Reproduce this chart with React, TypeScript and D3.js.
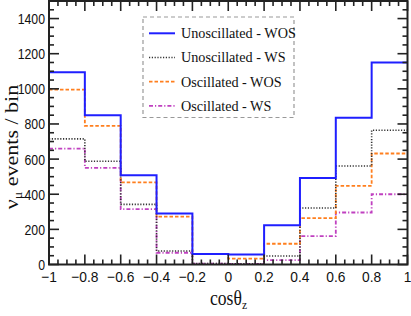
import * as d3 from "d3";
import React from "react";
import { useEffect, useRef } from "react";

const binEdges = [-1, -0.8, -0.6, -0.4, -0.2, 0, 0.2, 0.4, 0.6, 0.8, 1];
const unoscWOS = [1095, 849, 508, 291, 60, 57, 224, 493, 836, 1150];
const unoscWS = [715, 588, 342, 77, 6, 4, 48, 322, 561, 764];
const oscWOS = [995, 789, 467, 272, 60, 33, 118, 264, 448, 632];
const oscWS = [660, 550, 315, 67, 5, 3, 25, 162, 296, 400];

const seriesNames = ["Unoscillated - WOS", "Unoscillated - WS", "Oscillated - WOS", "Oscillated - WS"];
const xTicks = [-1, -0.8, -0.6, -0.4, -0.2, 0, 0.2, 0.4, 0.6, 0.8, 1];
const yTicks = [0, 200, 400, 600, 800, 1000, 1200, 1400];

const W = 411, H = 316;

const App = () => {
    const ref = useRef(null);
    const margin = { top: 1, right: 3.5, bottom: 51.5, left: 49 };

    useEffect(() => {
        const svg = d3.select(ref.current);
        svg.selectAll("*").remove();

        const x = d3.scaleLinear().domain([-1, 1]).range([margin.left, W - margin.right]);
        const y = d3.scaleLinear().domain([0, 1500]).range([H - margin.bottom, margin.top]);

        const styles = [
            { data: unoscWOS, color: "#1f1fff", width: 2, dash: null },
            { data: unoscWS, color: "#333333", width: 1.6, dash: "1.2,1.6" },
            { data: oscWOS, color: "#ff7f1e", width: 1.8, dash: "3.5,2" },
            { data: oscWS, color: "#c040c0", width: 1.8, dash: "4,2,1.2,2" },
        ];

        const line = d3.line<[number, number]>()
            .x(d => x(d[0]))
            .y(d => y(d[1]))
            .curve(d3.curveStepAfter);

        // draw the weaker series first so the solid blue is on top
        [...styles].reverse().forEach(s => {
            const pts: [number, number][] = s.data.map((v, i) => [binEdges[i], v]);
            pts.push([1, s.data[s.data.length - 1]]);
            svg.append("path")
                .attr("d", line(pts))
                .attr("fill", "none")
                .attr("stroke", s.color)
                .attr("stroke-width", s.width)
                .attr("stroke-dasharray", s.dash)
        });

        const tickColor = "#222";
        const x0 = x(-1), x1 = x(1), y0 = y(0), y1 = y(1500);

        // minor + major ticks, all four sides
        const g = svg.append("g").attr("stroke", tickColor).attr("stroke-width", 1.6);
        d3.range(0, 1501, 50).forEach(v => {
            const len = v % 200 === 0 ? 10 : 5;
            g.append("line").attr("x1", x0).attr("x2", x0 + len).attr("y1", y(v)).attr("y2", y(v));
            g.append("line").attr("x1", x1).attr("x2", x1 - len).attr("y1", y(v)).attr("y2", y(v));
        });
        d3.range(0, 41).forEach(k => {
            const v = -1 + k * 0.05;
            const len = k % 4 === 0 ? 10 : 5;
            g.append("line").attr("x1", x(v)).attr("x2", x(v)).attr("y1", y0).attr("y2", y0 - len);
            g.append("line").attr("x1", x(v)).attr("x2", x(v)).attr("y1", y1).attr("y2", y1 + len);
        });

        svg.append("rect")
            .attr("x", x0).attr("y", y1)
            .attr("width", x1 - x0).attr("height", y0 - y1)
            .attr("fill", "none").attr("stroke", tickColor).attr("stroke-width", 2);

        const fmt = (v: number) => (v < 0 ? "\u2212" : "") + String(Math.abs(v));

        // y tick labels are a bit narrow in the original, squeeze them
        svg.selectAll(".ylab")
            .data(yTicks)
            .enter()
            .append("text")
            .attr("transform", d => `translate(${x0 - 4},${y(d) + 5.5}) scale(0.82,1)`)
            .attr("text-anchor", "end")
            .attr("font-family", "Liberation Sans, Arial, sans-serif")
            .attr("font-size", "15px")
            .attr("fill", "#111")
            .text(d => String(d));

        svg.selectAll(".xlab")
            .data(xTicks)
            .enter()
            .append("text")
            .attr("transform", d => `translate(${x(d)},${y0 + 17}) scale(0.92,1)`)
            .attr("text-anchor", "middle")
            .attr("font-family", "Liberation Sans, Arial, sans-serif")
            .attr("font-size", "15px")
            .attr("fill", "#111")
            .text(d => fmt(d));

        // axis titles
        const xt = svg.append("text")
            .attr("transform", "translate(210,305) scale(0.88,1)")
            .attr("font-family", "Liberation Serif, Times New Roman, serif")
            .attr("font-size", "20px")
            .attr("fill", "#111");
        xt.append("tspan").text("cos\u03b8");
        xt.append("tspan").attr("dy", 4).attr("font-size", "13px").text("z");

        const yt = svg.append("text")
            .attr("transform", "translate(18,147) rotate(-90) scale(1,0.88)")
            .attr("text-anchor", "middle")
            .attr("font-family", "Liberation Serif, Times New Roman, serif")
            .attr("font-size", "22px")
            .attr("fill", "#111");
        yt.append("tspan").text("\u03bd");
        yt.append("tspan").attr("dy", 4).attr("font-size", "14px").text("\u03bc");
        yt.append("tspan").attr("dy", -4).text(" events / bin");

        // legend
        const lg = svg.append("g");
        lg.append("rect")
            .attr("x", 143).attr("y", 17)
            .attr("width", 151).attr("height", 100.5)
            .attr("fill", "white")
            .attr("stroke", "#999").attr("stroke-width", 1.2)
            .attr("stroke-dasharray", "4,3");
        styles.forEach((s, i) => {
            const cy = 33.3 + i * 24.2;
            lg.append("line")
                .attr("x1", 149).attr("x2", 175)
                .attr("y1", cy).attr("y2", cy)
                .attr("stroke", s.color)
                .attr("stroke-width", s.width)
                .attr("stroke-dasharray", s.dash);
            lg.append("text")
                .attr("x", 181).attr("y", cy + 4.8)
                .attr("font-family", "Liberation Serif, Times New Roman, serif")
                .attr("font-size", "14.2px")
                .attr("fill", "#111")
                .text(seriesNames[i]);
        });
    }, []);

    return <svg ref={ref} width={W} height={H} style={{ position: "fixed", left: 0, top: 0, background: "white" }} />;
};

export default App;
